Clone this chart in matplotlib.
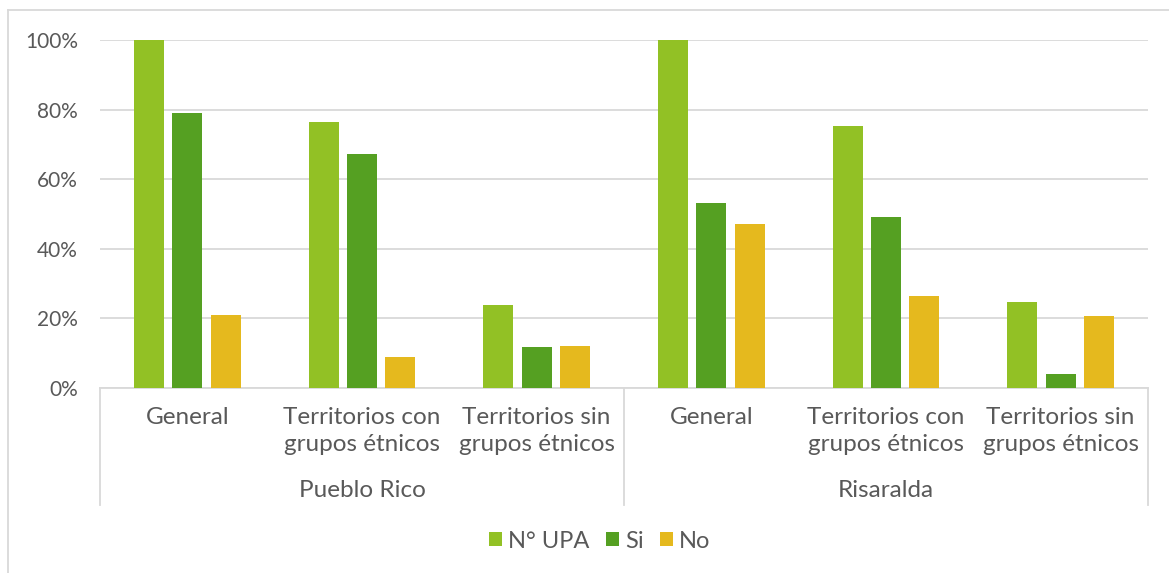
import matplotlib
matplotlib.use("Agg")
import matplotlib.pyplot as plt
import numpy as np
from matplotlib.patches import Patch
from matplotlib.lines import Line2D

plt.rcParams['font.family'] = ['Lato', 'DejaVu Sans']

# Data (percent)
categories = ["General", "Territorios con\ngrupos étnicos", "Territorios sin\ngrupos étnicos"] * 2
groups = ["Pueblo Rico", "Risaralda"]
series_names = ["N° UPA", "Si", "No"]
upa = [100, 76.3, 23.8, 100, 75.3, 24.7]
si = [78.9, 67.3, 11.8, 53.2, 49.1, 4.0]
no = [21.0, 9.0, 12.1, 47.0, 26.4, 20.7]
colors = ["#92C125", "#55A022", "#E5B91E"]

text_col = "#595959"
grid_col = "#D9D9D9"

fig = plt.figure(figsize=(11.69, 5.73), dpi=100)
ax = fig.add_axes([100 / 1169, 1 - 388 / 573, 1048 / 1169, 348 / 573])

x = np.arange(len(categories))
w = 0.172
step = 0.22
for i, (vals, c) in enumerate(zip([upa, si, no], colors)):
    ax.bar(x + (i - 1) * step, vals, width=w, color=c, zorder=3)

ax.set_xlim(-0.5, len(categories) - 0.5)
ax.set_ylim(0, 100)
ax.set_yticks(range(0, 101, 20))
ax.set_yticklabels([f"{v}%" for v in range(0, 101, 20)])
ax.yaxis.grid(True, color=grid_col, linewidth=1.3, zorder=0)
for s in ["top", "right", "left"]:
    ax.spines[s].set_visible(False)
ax.spines["bottom"].set_color(grid_col)
ax.spines["bottom"].set_linewidth(1.3)
ax.tick_params(axis="y", length=0, labelsize=15, labelcolor=text_col, pad=16)
ax.set_xticks(x)
ax.set_xticklabels(categories, linespacing=1.3)
ax.tick_params(axis="x", length=0, labelsize=17.5, labelcolor=text_col, pad=14)

# hierarchical axis dividers and group labels
trans = ax.get_xaxis_transform()
for xv in [-0.5, 2.5, 5.5]:
    ax.plot([xv, xv], [0, -0.336], transform=trans, color=grid_col,
            linewidth=1.3, clip_on=False)
for gi, g in enumerate(groups):
    ax.text(gi * 3 + 1, -0.295, g, transform=trans, ha="center", va="center",
            fontsize=17.5, color=text_col)

# legend
handles = [Patch(facecolor=c, label=n) for c, n in zip(colors, series_names)]
fig.legend(handles=handles, loc="center", bbox_to_anchor=(0.513, 1 - 541 / 573),
           ncol=3, frameon=False, fontsize=17, labelcolor=text_col,
           handlelength=0.55, handleheight=0.55, handletextpad=0.25, columnspacing=0.7)

# outer chart border (top and left visible)
fig.add_artist(Line2D([8 / 1169, 1], [1 - 10 / 573] * 2, transform=fig.transFigure,
                      color=grid_col, linewidth=1.3))
fig.add_artist(Line2D([8 / 1169] * 2, [0, 1 - 10 / 573], transform=fig.transFigure,
                      color=grid_col, linewidth=1.3))

fig.savefig("out.png", dpi=100)
